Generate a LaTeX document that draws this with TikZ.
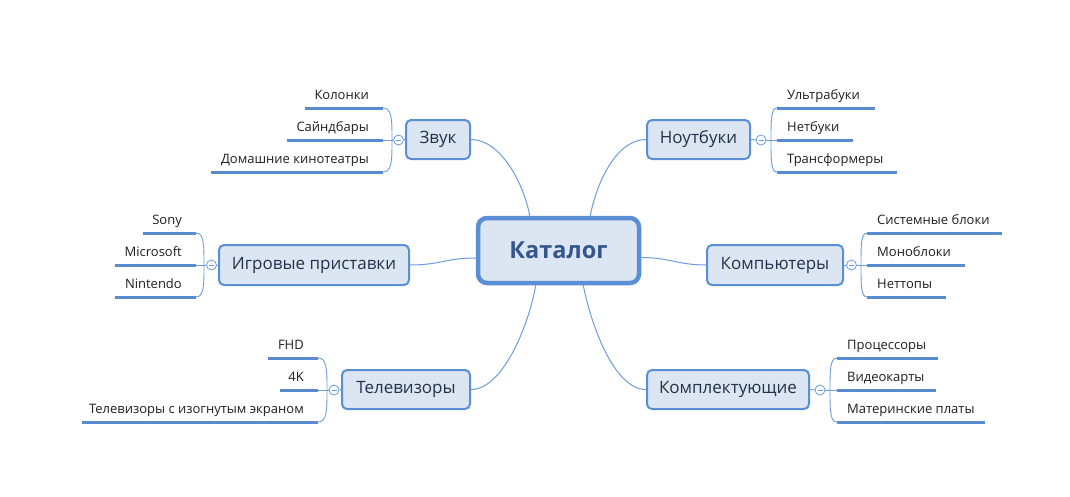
\documentclass[tikz,border=0pt]{standalone}
\usepackage{fontspec}
\setmainfont{Open Sans}
\usetikzlibrary{calc}
\definecolor{nodeborder}{HTML}{5B8FD5}
\definecolor{nodefill}{HTML}{DCE6F2}
\definecolor{leafblue}{HTML}{5A8AD0}
\definecolor{connblue}{HTML}{6D9CDC}
\definecolor{topictext}{HTML}{22324A}
\definecolor{centertext}{HTML}{34568C}
\definecolor{leaftextc}{HTML}{1E1E1E}
\newcommand\leafL[5]{%
  \draw[leafline] (#2,#4) -- (#3,#4) coordinate (#1e);
  \node[leaftext, anchor=base east] (#1) at (#3-14,#4-9) {#5};}
\newcommand\leafR[5]{%
  \draw[leafline] (#3,#4) -- (#2,#4) coordinate (#1e);
  \node[leaftext, anchor=base west] (#1) at (#2+10,#4-9) {#5};}
\newcommand\brk[3]{% leaf x, bracket x, centre y
  \draw[bracket] (#1,#3-32) .. controls (#2,#3-32) and (#2,#3-20) .. (#2,#3)
     .. controls (#2,#3+20) and (#2,#3+32) .. (#1,#3+32);}
\begin{document}
\begin{tikzpicture}[x=1pt,y=-1pt,
  topic/.style={draw=nodeborder, fill=nodefill, line width=2pt, rounded corners=5pt,
     font=\fontsize{17}{20}\selectfont, text=topictext, inner sep=0pt},
  central/.style={draw=nodeborder, fill=nodefill, line width=4.5pt, rounded corners=9pt,
     font=\fontsize{23.5}{28}\selectfont\bfseries, text=centertext, inner sep=0pt},
  leaftext/.style={font=\fontsize{13}{15}\selectfont, text=leaftextc, inner sep=0pt},
  leafline/.style={draw=leafblue, line width=3pt},
  conn/.style={draw=connblue, line width=1pt},
  bracket/.style={draw=connblue, line width=0.9pt},
  toggle/.style={circle, draw=connblue, fill=white, minimum size=10pt, inner sep=0pt, line width=0.8pt,
     path picture={\draw[connblue, line width=0.8pt] ($(path picture bounding box.center)+(-2.5,0)$) -- +(5,0);}}
]
\useasboundingbox (0,0) rectangle (1070,496);

% central
\node[central, minimum width=161pt, minimum height=65pt] (cat) at (558.5,250.5) {Каталог};

% topics
\node[topic, minimum width=64pt,  minimum height=39pt] (zvuk)  at (438,139.5) {Звук};
\node[topic, minimum width=103pt, minimum height=39pt] (nout)  at (698.5,139.5) {Ноутбуки};
\node[topic, minimum width=190pt, minimum height=40pt] (igr)   at (314,265) {Игровые приставки};
\node[topic, minimum width=136pt, minimum height=40pt] (komp)  at (775,265) {Компьютеры};
\node[topic, minimum width=128pt, minimum height=39pt] (tv)    at (406,389.5) {Телевизоры};
\node[topic, minimum width=162pt, minimum height=39pt] (kompl) at (728,389.5) {Комплектующие};

% connectors from centre
\draw[conn] (zvuk.east) .. controls +(30,0) and +(-6,-32) .. ($(cat.north west)+(54,0)$);
\draw[conn] (nout.west) .. controls +(-30,0) and +(6,-32) .. ($(cat.north east)+(-51,0)$);
\draw[conn] (tv.east) .. controls +(33,0) and +(-6,36) .. ($(cat.south west)+(60,0)$);
\draw[conn] (kompl.west) .. controls +(-33,0) and +(7,36) .. ($(cat.south east)+(-58,0)$);
\draw[conn] (igr.east) .. controls +(30,0) and +(-30,0) .. ($(cat.west)+(0,7.5)$);
\draw[conn] ($(cat.east)+(0,7)$) .. controls +(28,0) and +(-28,0) .. (komp.west);

% ---- Звук (left)
\leafL{z1}{305}{383}{108}{Колонки}
\leafL{z2}{287}{383}{140}{Сайндбары}
\leafL{z3}{211}{383}{172}{Домашние кинотеатры}
\brk{383}{392}{140}
\node[toggle] (tz) at (398.5,140) {};
\draw[bracket] (tz.west) -- (z2e);
\draw[conn] (zvuk.west) -- (tz.east);

% ---- Игровые приставки (left)
\leafL{g1}{143}{196}{233}{Sony}
\leafL{g2}{115}{196}{265}{Microsoft}
\leafL{g3}{115}{196}{297}{Nintendo}
\brk{196}{204}{265}
\node[toggle] (tg) at (211.5,265) {};
\draw[bracket] (tg.west) -- (g2e);
\draw[conn] (igr.west) -- (tg.east);

% ---- Телевизоры (left)
\leafL{t1}{268}{318}{358}{FHD}
\leafL{t2}{280}{318}{390}{4K}
\leafL{t3}{82}{318}{422}{Телевизоры с изогнутым экраном}
\brk{318}{327}{390}
\node[toggle] (tt) at (334,390) {};
\draw[bracket] (tt.west) -- (t2e);
\draw[conn] (tv.west) -- (tt.east);

% ---- Ноутбуки (right)
\leafR{n1}{777}{875}{108}{Ультрабуки}
\leafR{n2}{777}{853}{140}{Нетбуки}
\leafR{n3}{777}{897}{172}{Трансформеры}
\brk{777}{771}{140}
\node[toggle] (tn) at (761,140) {};
\draw[bracket] (tn.east) -- (n2e);
\draw[conn] (nout.east) -- (tn.west);

% ---- Компьютеры (right)
\leafR{k1}{867}{1002}{233}{Системные блоки}
\leafR{k2}{867}{965}{265}{Моноблоки}
\leafR{k3}{867}{946}{297}{Неттопы}
\brk{867}{861}{265}
\node[toggle] (tk) at (851.5,265) {};
\draw[bracket] (tk.east) -- (k2e);
\draw[conn] (komp.east) -- (tk.west);

% ---- Комплектующие (right)
\leafR{p1}{837}{938}{358}{Процессоры}
\leafR{p2}{837}{936}{390}{Видеокарты}
\leafR{p3}{837}{985}{422}{Материнские платы}
\brk{837}{830}{390}
\node[toggle] (tp) at (820,390) {};
\draw[bracket] (tp.east) -- (p2e);
\draw[conn] (kompl.east) -- (tp.west);
\end{tikzpicture}
\end{document}
